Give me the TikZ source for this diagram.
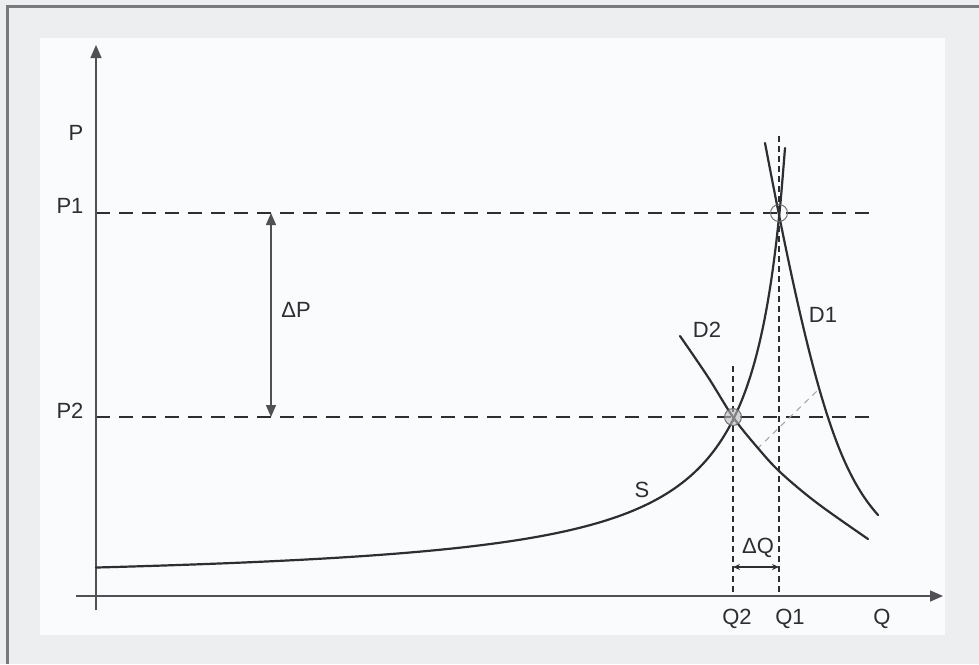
\documentclass[tikz,border=0pt]{standalone}
\usepackage{fontspec}
\setmainfont{Liberation Sans}
\usetikzlibrary{arrows.meta}
\definecolor{outerbg}{RGB}{236,238,239}
\definecolor{innerbg}{RGB}{250,251,252}
\definecolor{ink}{RGB}{45,45,50}
\definecolor{axisc}{RGB}{80,80,85}
\definecolor{framec}{RGB}{120,120,125}
\tikzset{
  lbl/.style={text=ink, inner sep=0pt},
  axisline/.style={draw=axisc, line width=1.5pt},
  curveline/.style={draw=ink, line width=2.2pt, line cap=round},
  plevel/.style={draw=ink, line width=2.4pt, dash pattern=on 14pt off 9pt},
  qlevel/.style={draw=ink, line width=1.1pt, dash pattern=on 6pt off 4pt},
  shiftline/.style={draw=gray!70, line width=1pt, dash pattern=on 6pt off 5pt},
  mark circ/.style={draw=gray!80!black, line width=0.9pt},
}
\begin{document}
\begin{tikzpicture}[x=1pt,y=-1pt, font=\fontsize{22}{26}\selectfont]
\useasboundingbox (0,0) rectangle (979,664);
\fill[outerbg] (0,0) rectangle (979,664);
\fill[innerbg] (40,38) rectangle (945,635);
\draw[framec, line width=3pt] (7,664) -- (7,6) -- (979,6);

% key coordinates
\coordinate (O) at (96,596);
\coordinate (ytop) at (96,45);
\coordinate (ybot) at (96,610);
\coordinate (xleft) at (76,596);
\coordinate (xright) at (943,596);
\coordinate (E1) at (779,213);
\coordinate (E2) at (733,417);
\coordinate (P1a) at (96,213);
\coordinate (P1b) at (876,213);
\coordinate (P2a) at (96,417);
\coordinate (P2b) at (876,417);
\coordinate (Q1top) at (779,136);
\coordinate (Q1bot) at (779,596);
\coordinate (Q2top) at (733,366);
\coordinate (Q2bot) at (733,596);
\coordinate (dPtop) at (271,213);
\coordinate (dPbot) at (271,417);
\coordinate (dQl) at (733,567);
\coordinate (dQr) at (779,567);
\coordinate (sh1) at (757,449);
\coordinate (sh2) at (817,391);
\coordinate (D1s) at (765,143);
\coordinate (D1e) at (878,515);
\coordinate (D2s) at (680,336);
\coordinate (D2e) at (868,539);

% level lines
\draw[plevel] (P1a) -- (P1b);
\draw[plevel] (P2a) -- (P2b);
\draw[qlevel] (Q1top) -- (Q1bot);
\draw[qlevel] (Q2top) -- (Q2bot);
\draw[shiftline] (sh1) -- (sh2);

% axes
\draw[axisline, -{Triangle[length=13pt,width=11pt]}] (ybot) -- (ytop);
\draw[axisline, -{Triangle[length=13pt,width=11pt]}] (xleft) -- (xright);

% supply curve S
\draw[curveline] plot[domain=96:785, samples=160, smooth] (\x, {587 - 14046/(817-\x)});
% demand D1
\draw[curveline] (D1s) .. controls (812.5,393) and (838,470) .. (D1e);
% demand D2
\draw[curveline] plot[smooth, tension=0.55] coordinates {
 (D2s) (708,377) (E2) (757,447) (780,472) (817,503) (D2e)};

% equilibrium marks
\draw[mark circ] (E1) circle (8.5pt);
\draw[mark circ, fill=gray!55, fill opacity=0.6] (E2) circle (8.5pt);

% delta arrows
\draw[draw=axisc, line width=1.4pt, {Triangle[length=12pt,width=10pt]}-{Triangle[length=12pt,width=10pt]}] (dPtop) -- (dPbot);
\draw[draw=ink, line width=1.1pt, {Stealth[length=7pt,width=6pt]}-{Stealth[length=7pt,width=6pt]}] (dQl) -- (dQr);

% labels
\node[lbl] (lP) at (76,133) {P};
\node[lbl] (lP1) at (70,206) {P1};
\node[lbl] (lP2) at (70,411) {P2};
\node[lbl] (ldP) at (296,310) {ΔP};
\node[lbl] (lS) at (642,490) {S};
\node[lbl] (lD1) at (823,315) {D1};
\node[lbl] (lD2) at (707,330) {D2};
\node[lbl] (ldQ) at (758,548) {ΔQ};
\node[lbl] (lQ2) at (737,619) {Q2};
\node[lbl] (lQ1) at (790,619) {Q1};
\node[lbl] (lQ) at (882,619) {Q};
\end{tikzpicture}
\end{document}
